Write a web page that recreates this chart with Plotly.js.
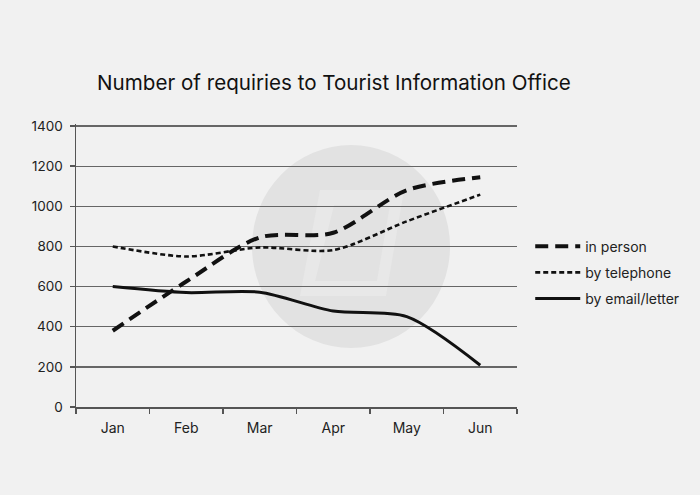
<!DOCTYPE html>
<html>
<head>
<meta charset="utf-8">
<script src="https://cdn.plot.ly/plotly-3.0.1.min.js"></script>
<style>html,body{margin:0;padding:0;background:#f1f1f1;}#chart{width:700px;height:495px;}</style>
</head>
<body>
<div id="chart"></div>
<script>
const months = ["Jan", "Feb", "Mar", "Apr", "May", "Jun"];
const inPerson = [380, 625, 845, 868, 1080, 1145];
const byTelephone = [800, 750, 795, 782, 925, 1058];
const byEmailLetter = [600, 570, 572, 478, 450, 208];
const yTicks = [0, 200, 400, 600, 800, 1000, 1200, 1400];
const chartTitle = "Number of requiries to Tourist Information Office";

const FONT = "Inter, 'Open Sans', Roboto, sans-serif";

// decorative watermark geometry (page pixels -> paper coords)
const M = {l: 76, r: 183, t: 124, b: 88};
const PW = 700 - M.l - M.r, PH = 495 - M.t - M.b;
const px = v => ((v - M.l) / PW).toFixed(4);
const py = v => ((495 - M.b - v) / PH).toFixed(4);
const poly = pts => "M" + pts.map(p => px(p[0]) + "," + py(p[1])).join(" L") + " Z";

const traces = [
  {x: months, y: inPerson, name: "in person", mode: "lines", legendgroup: "a",
   line: {color: "#111", width: 4, dash: "13px,7px", shape: "spline", smoothing: 0.8}},
  {x: months, y: byTelephone, name: "by telephone", mode: "lines", legendgroup: "b",
   line: {color: "#111", width: 2.6, dash: "5px,3px", shape: "spline", smoothing: 0.8}},
  {x: months, y: byEmailLetter, name: "by email/letter", mode: "lines", legendgroup: "c",
   line: {color: "#111", width: 3, shape: "spline", smoothing: 0.8}}
];

const layout = {
  width: 700, height: 495,
  paper_bgcolor: "#f1f1f1", plot_bgcolor: "rgba(0,0,0,0)",
  font: {family: FONT, color: "#222", size: 13},
  margin: M,
  title: {text: chartTitle, x: 0.477, xanchor: "center", y: 0.833, yanchor: "middle",
          font: {family: FONT, size: 20.6, color: "#111"}},
  xaxis: {type: "category", range: [-0.5, 5.5], showgrid: false, zeroline: false,
          showline: true, linecolor: "#555", linewidth: 1.5,
          ticks: "outside", tickson: "boundaries", ticklen: 5, tickcolor: "#555", tickwidth: 1.5,
          ticklabelstandoff: 8, tickfont: {size: 14, color: "#222"}},
  yaxis: {range: [0, 1410], tickvals: yTicks, showgrid: true, gridcolor: "#666", gridwidth: 1.3,
          zeroline: false, showline: true, linecolor: "#555", linewidth: 1.5,
          ticks: "outside", ticklen: 5, tickcolor: "#555", tickwidth: 1.5,
          ticklabelstandoff: 4, tickfont: {size: 13.5, color: "#222"}},
  legend: {x: 1.03, xanchor: "left", y: 0.475, yanchor: "middle", bgcolor: "rgba(0,0,0,0)",
           itemwidth: 45, tracegroupgap: 5, font: {size: 14, color: "#222"}},
  shapes: [
    {type: "circle", xref: "paper", yref: "paper", layer: "below",
     x0: px(252), x1: px(450), y0: py(348), y1: py(145),
     fillcolor: "#e2e2e2", line: {width: 0}},
    {type: "path", xref: "paper", yref: "paper", layer: "below",
     path: poly([[320, 190], [404, 190], [386, 296], [300, 296]]),
     fillcolor: "#e8e8e8", line: {width: 0}},
    {type: "path", xref: "paper", yref: "paper", layer: "below",
     path: poly([[334, 205], [390, 205], [377, 281], [315, 281]]),
     fillcolor: "#e2e2e2", line: {width: 0}}
  ],
  showlegend: true
};

Plotly.newPlot("chart", traces, layout, {displayModeBar: false, staticPlot: true});
</script>
</body>
</html>
